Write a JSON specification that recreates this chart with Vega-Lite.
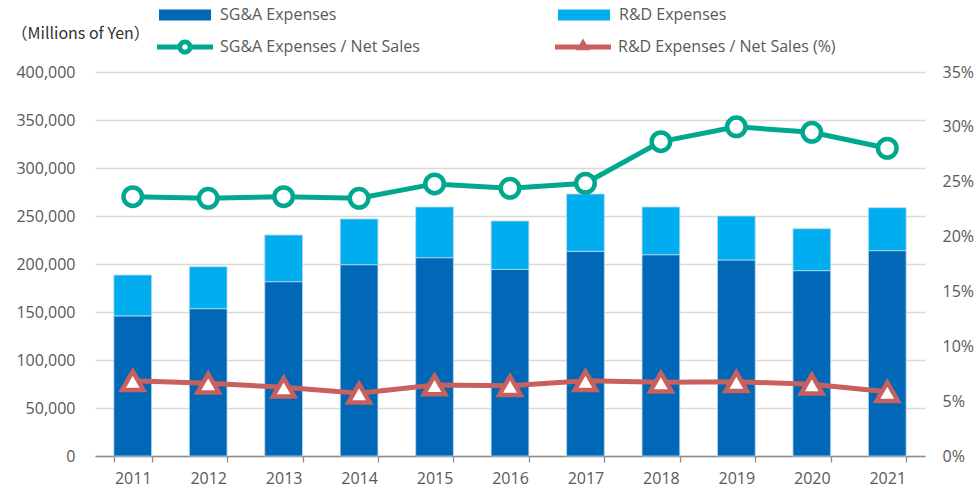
{
  "$schema": "https://vega.github.io/schema/vega-lite/v6.json",
  "width": 830,
  "height": 384,
  "autosize": {"type": "none"},
  "padding": {"left": 95, "top": 72, "right": 50, "bottom": 33},
  "config": {
    "view": {"stroke": null},
    "font": "Open Sans",
    "axis": {"labelFont": "Open Sans", "labelFontSize": 16, "labelColor": "#595959"},
    "legend": {"labelFont": "Open Sans", "labelFontSize": 16, "labelColor": "#595959", "padding": 0, "labelLimit": 500}
  },
  "datasets": {
    "bars": [
      {"year": "2011", "series": "SG&A Expenses", "value": 146000},
      {"year": "2011", "series": "R&D Expenses", "value": 42500},
      {"year": "2012", "series": "SG&A Expenses", "value": 153500},
      {"year": "2012", "series": "R&D Expenses", "value": 43700},
      {"year": "2013", "series": "SG&A Expenses", "value": 181600},
      {"year": "2013", "series": "R&D Expenses", "value": 48600},
      {"year": "2014", "series": "SG&A Expenses", "value": 199300},
      {"year": "2014", "series": "R&D Expenses", "value": 47600},
      {"year": "2015", "series": "SG&A Expenses", "value": 206600},
      {"year": "2015", "series": "R&D Expenses", "value": 52800},
      {"year": "2016", "series": "SG&A Expenses", "value": 194400},
      {"year": "2016", "series": "R&D Expenses", "value": 50400},
      {"year": "2017", "series": "SG&A Expenses", "value": 213200},
      {"year": "2017", "series": "R&D Expenses", "value": 59700},
      {"year": "2018", "series": "SG&A Expenses", "value": 209700},
      {"year": "2018", "series": "R&D Expenses", "value": 49700},
      {"year": "2019", "series": "SG&A Expenses", "value": 204200},
      {"year": "2019", "series": "R&D Expenses", "value": 45800},
      {"year": "2020", "series": "SG&A Expenses", "value": 193100},
      {"year": "2020", "series": "R&D Expenses", "value": 43700},
      {"year": "2021", "series": "SG&A Expenses", "value": 213900},
      {"year": "2021", "series": "R&D Expenses", "value": 44800}
    ],
    "ratios": [
      {"year": "2011", "metric": "SG&A Expenses / Net Sales", "pct": 0.2364},
      {"year": "2012", "metric": "SG&A Expenses / Net Sales", "pct": 0.2349},
      {"year": "2013", "metric": "SG&A Expenses / Net Sales", "pct": 0.2364},
      {"year": "2014", "metric": "SG&A Expenses / Net Sales", "pct": 0.2349},
      {"year": "2015", "metric": "SG&A Expenses / Net Sales", "pct": 0.248},
      {"year": "2016", "metric": "SG&A Expenses / Net Sales", "pct": 0.244},
      {"year": "2017", "metric": "SG&A Expenses / Net Sales", "pct": 0.2486},
      {"year": "2018", "metric": "SG&A Expenses / Net Sales", "pct": 0.2865},
      {"year": "2019", "metric": "SG&A Expenses / Net Sales", "pct": 0.300},
      {"year": "2020", "metric": "SG&A Expenses / Net Sales", "pct": 0.295},
      {"year": "2021", "metric": "SG&A Expenses / Net Sales", "pct": 0.2805},
      {"year": "2011", "metric": "R&D Expenses / Net Sales (%)", "pct": 0.0686},
      {"year": "2012", "metric": "R&D Expenses / Net Sales (%)", "pct": 0.0663},
      {"year": "2013", "metric": "R&D Expenses / Net Sales (%)", "pct": 0.0626},
      {"year": "2014", "metric": "R&D Expenses / Net Sales (%)", "pct": 0.0572},
      {"year": "2015", "metric": "R&D Expenses / Net Sales (%)", "pct": 0.0647},
      {"year": "2016", "metric": "R&D Expenses / Net Sales (%)", "pct": 0.0641},
      {"year": "2017", "metric": "R&D Expenses / Net Sales (%)", "pct": 0.0686},
      {"year": "2018", "metric": "R&D Expenses / Net Sales (%)", "pct": 0.0672},
      {"year": "2019", "metric": "R&D Expenses / Net Sales (%)", "pct": 0.0677},
      {"year": "2020", "metric": "R&D Expenses / Net Sales (%)", "pct": 0.0654},
      {"year": "2021", "metric": "R&D Expenses / Net Sales (%)", "pct": 0.0586}
    ]
  },
  "encoding": {
    "x": {
      "field": "year",
      "type": "ordinal",
      "scale": {"paddingInner": 0.5, "paddingOuter": 0.25},
      "axis": {
        "title": null,
        "labelAngle": 0,
        "tickBand": "extent",
        "domainColor": "#8C8C8C",
        "tickColor": "#8C8C8C",
        "domainWidth": 1.3,
        "tickWidth": 1.3,
        "tickSize": 6,
        "labelPadding": 8,
        "grid": false
      }
    }
  },
  "layer": [
    {
      "data": {"name": "bars"},
      "mark": {"type": "bar", "stroke": "#BDD7EE", "strokeWidth": 0.8},
      "encoding": {
        "y": {
          "field": "value",
          "type": "quantitative",
          "stack": "zero",
          "scale": {"domain": [0, 400000]},
          "axis": {
            "values": [0, 50000, 100000, 150000, 200000, 250000, 300000, 350000, 400000],
            "format": ",.0f",
            "grid": true,
            "gridColor": "#D9D9D9",
            "gridWidth": 1.3,
            "domain": false,
            "ticks": false,
            "labelPadding": 20,
            "title": "（Millions of Yen）",
            "titleAngle": 0,
            "titleX": -84,
            "titleY": -39,
            "titleAlign": "left",
            "titleBaseline": "middle",
            "titleFont": "Noto Sans CJK JP",
            "titleFontSize": 16,
            "titleFontWeight": "normal",
            "titleColor": "#333333"
          }
        },
        "color": {
          "field": "series",
          "type": "nominal",
          "scale": {"domain": ["SG&A Expenses", "R&D Expenses"], "range": ["#0068B7", "#00AEEF"]},
          "legend": {
            "title": null,
            "orient": "none",
            "legendX": 64,
            "legendY": -83,
            "direction": "horizontal",
            "columns": 2,
            "columnPadding": 221,
            "symbolType": "M-1,-0.21H1V0.21H-1Z",
            "symbolSize": 2704,
            "symbolStrokeWidth": 0,
            "labelOffset": 9,
            "encode": {"symbols": {"update": {"strokeWidth": {"value": 0}, "opacity": {"value": 1}}}}
          }
        },
        "order": {"field": "series", "sort": "descending"}
      }
    },
    {
      "data": {"name": "ratios"},
      "encoding": {
        "y": {
          "field": "pct",
          "type": "quantitative",
          "scale": {"domain": [0, 0.35]},
          "axis": {
            "orient": "right",
            "values": [0, 0.05, 0.1, 0.15, 0.2, 0.25, 0.3, 0.35],
            "format": ".0%",
            "grid": false,
            "domain": false,
            "ticks": false,
            "labelPadding": 17,
            "title": null
          }
        },
        "color": {
          "field": "metric",
          "type": "nominal",
          "scale": {"domain": ["SG&A Expenses / Net Sales", "R&D Expenses / Net Sales (%)"], "range": ["#00A88E", "#C8605E"]},
          "legend": {
            "title": null,
            "orient": "none",
            "legendX": 62,
            "legendY": -53,
            "direction": "horizontal",
            "columns": 2,
            "columnPadding": 135,
            "symbolSize": 3136,
            "labelOffset": 7,
            "encode": {
              "symbols": {
                "update": {
                  "shape": {"signal": "datum.value === 'SG&A Expenses / Net Sales' ? 'M-1,-0.09H-0.26V0.09H-1Z M0.26,-0.09H1V0.09H0.26Z M0,-0.27A0.27,0.27 0 1,1 0,0.27A0.27,0.27 0 1,1 0,-0.27Z M0,-0.1A0.1,0.1 0 1,0 0,0.1A0.1,0.1 0 1,0 0,-0.1Z' : 'M-1,-0.09H1V0.09H-1Z M0,-0.3L0.25,0.12L-0.25,0.12Z'"},
                  "fill": {"signal": "datum.value === 'SG&A Expenses / Net Sales' ? '#00A88E' : '#C8605E'"},
                  "fillOpacity": {"value": 1},
                  "strokeWidth": {"value": 0},
                  "size": {"value": 3136},
                  "opacity": {"value": 1}
                }
              }
            }
          }
        }
      },
      "layer": [
        {"mark": {"type": "line", "strokeWidth": 5}},
        {
          "transform": [{"filter": "datum.metric === 'SG&A Expenses / Net Sales'"}],
          "mark": {"type": "point", "shape": "circle", "filled": false, "fill": "white", "strokeWidth": 4.5, "size": 342, "opacity": 1}
        },
        {
          "transform": [{"filter": "datum.metric === 'R&D Expenses / Net Sales (%)'"}],
          "mark": {"type": "point", "shape": "triangle-up", "filled": false, "fill": "white", "strokeWidth": 4.5, "size": 460, "opacity": 1}
        }
      ]
    }
  ],
  "resolve": {"scale": {"y": "independent", "color": "independent"}}
}
